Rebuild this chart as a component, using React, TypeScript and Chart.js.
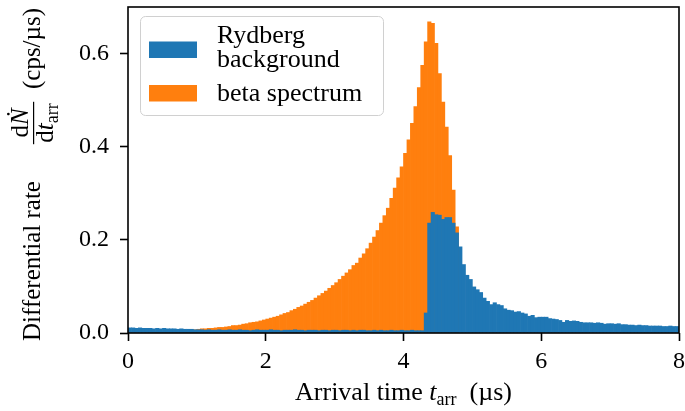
import React, { useEffect, useRef } from "react";
import { Chart, registerables } from "chart.js";

Chart.register(...registerables);

// ---------------- data ----------------
const BIN_WIDTH = 0.05; // µs, bins from 0 to 8 µs

const rydbergBackground = [
  // 0.00 - 0.95
  0.011, 0.011, 0.010, 0.011, 0.010, 0.010, 0.010, 0.009, 0.010, 0.009,
  0.010, 0.009, 0.009, 0.009, 0.008, 0.009, 0.008, 0.008, 0.008, 0.007,
  // 1.00 - 1.95
  0.007, 0.007, 0.006, 0.007, 0.006, 0.006, 0.007, 0.006, 0.006, 0.007,
  0.006, 0.006, 0.007, 0.006, 0.006, 0.005, 0.006, 0.007, 0.006, 0.006,
  // 2.00 - 2.95
  0.006, 0.007, 0.006, 0.006, 0.005, 0.006, 0.006, 0.006, 0.007, 0.006,
  0.006, 0.005, 0.006, 0.006, 0.006, 0.005, 0.006, 0.006, 0.005, 0.006,
  // 3.00 - 3.95
  0.006, 0.005, 0.006, 0.006, 0.005, 0.006, 0.005, 0.006, 0.006, 0.005,
  0.005, 0.006, 0.005, 0.006, 0.005, 0.005, 0.006, 0.005, 0.005, 0.006,
  // 4.00 - 4.25
  0.005, 0.005, 0.006, 0.005, 0.005, 0.005,
  // 4.30 - 4.75
  0.043, 0.236, 0.259, 0.254, 0.253, 0.244, 0.248, 0.248, 0.236, 0.215,
  // 4.80 - 5.25
  0.185, 0.147, 0.124, 0.115, 0.099, 0.093, 0.087, 0.075, 0.068, 0.061,
  // 5.30 - 5.75
  0.065, 0.061, 0.059, 0.052, 0.049, 0.048, 0.045, 0.046, 0.043, 0.041,
  // 5.80 - 6.25
  0.036, 0.038, 0.033, 0.034, 0.034, 0.034, 0.031, 0.030, 0.029, 0.027,
  // 6.30 - 6.75
  0.023, 0.027, 0.025, 0.026, 0.025, 0.023, 0.022, 0.022, 0.022, 0.021,
  // 6.80 - 7.25
  0.022, 0.021, 0.019, 0.020, 0.020, 0.019, 0.020, 0.018, 0.018, 0.017,
  // 7.30 - 7.75
  0.017, 0.016, 0.017, 0.016, 0.016, 0.015, 0.015, 0.015, 0.015, 0.014,
  // 7.80 - 7.95
  0.014, 0.015, 0.014, 0.014,
];

const betaSpectrum = [
  // 0.00 - 0.95
  0, 0, 0, 0, 0, 0, 0.001, 0.001, 0.002, 0.002,
  0.002, 0.003, 0.003, 0.004, 0.004, 0.005, 0.005, 0.006, 0.006, 0.007,
  // 1.00 - 1.95
  0.008, 0.009, 0.009, 0.010, 0.010, 0.011, 0.012, 0.012, 0.013, 0.014,
  0.016, 0.016, 0.017, 0.019, 0.020, 0.022, 0.023, 0.024, 0.026, 0.028,
  // 2.00 - 2.95
  0.030, 0.032, 0.034, 0.036, 0.039, 0.042, 0.044, 0.048, 0.051, 0.055,
  0.058, 0.062, 0.066, 0.070, 0.075, 0.080, 0.085, 0.090, 0.096, 0.102,
  // 3.00 - 3.95
  0.108, 0.115, 0.122, 0.129, 0.136, 0.145, 0.150, 0.161, 0.170, 0.181,
  0.193, 0.206, 0.220, 0.236, 0.252, 0.268, 0.289, 0.311, 0.333, 0.357,
  // 4.00 - 4.45
  0.386, 0.415, 0.450, 0.486, 0.527, 0.575, 0.625, 0.668, 0.665, 0.622,
  // 4.50 - 4.75
  0.557, 0.496, 0.442, 0.381, 0.307, 0.228,
  // 4.80 - 7.95
  0, 0, 0, 0, 0, 0, 0, 0, 0, 0, 0, 0, 0, 0, 0, 0,
  0, 0, 0, 0, 0, 0, 0, 0, 0, 0, 0, 0, 0, 0, 0, 0,
  0, 0, 0, 0, 0, 0, 0, 0, 0, 0, 0, 0, 0, 0, 0, 0,
  0, 0, 0, 0, 0, 0, 0, 0, 0, 0, 0, 0, 0, 0, 0, 0,
];

const seriesNames = ["Rydberg background", "beta spectrum"];
const legendLines = [["Rydberg", "background"], ["beta spectrum"]];
const seriesColors = ["#1f77b4", "#ff7f0e"];
const xTicks = [0, 2, 4, 6, 8];
const yTicks = [0, 0.2, 0.4, 0.6];
const X_MIN = 0;
const X_MAX = 8;
const Y_MIN = 0;
const Y_MAX = 0.7;

const binCenters = rydbergBackground.map((_, i) => +((i + 0.5) * BIN_WIDTH).toFixed(3));

// ---------------- styling ----------------
const FONT = "'Liberation Serif', 'Times New Roman', serif";
const TICK_SIZE = 24;
const LABEL_SIZE = 26;
const YLABEL_SIZE = 25;
const SUB_SIZE = 18;

type Run = { text: string; font: string; dy?: number };

function runsWidth(ctx: CanvasRenderingContext2D, runs: Run[]) {
  let w = 0;
  for (const r of runs) {
    ctx.font = r.font;
    w += ctx.measureText(r.text).width;
  }
  return w;
}

function drawRuns(ctx: CanvasRenderingContext2D, runs: Run[], x: number, y: number) {
  let cx = x;
  for (const r of runs) {
    ctx.font = r.font;
    ctx.fillText(r.text, cx, y + (r.dy || 0));
    cx += ctx.measureText(r.text).width;
  }
  return cx;
}

const decorPlugin = {
  id: "decor",
  afterDraw(chart: any) {
    const ctx: CanvasRenderingContext2D = chart.ctx;
    const { left, right, top, bottom } = chart.chartArea;
    ctx.save();

    // frame (spines)
    ctx.strokeStyle = "#000";
    ctx.lineWidth = 1.6;
    ctx.strokeRect(left, top, right - left, bottom - top);

    ctx.fillStyle = "#000";
    ctx.textAlign = "left";
    ctx.textBaseline = "alphabetic";
    const reg = `${LABEL_SIZE}px ${FONT}`;
    const ita = `italic ${LABEL_SIZE}px ${FONT}`;
    const sub = `${SUB_SIZE}px ${FONT}`;
    const yreg = `${YLABEL_SIZE}px ${FONT}`;
    const yita = `italic ${YLABEL_SIZE}px ${FONT}`;

    // legend
    const lx = 140.5, ly = 16.5, lw = 243, lh = 99;
    ctx.beginPath();
    (ctx as any).roundRect(lx, ly, lw, lh, 5);
    ctx.fillStyle = "rgba(255,255,255,0.8)";
    ctx.fill();
    ctx.strokeStyle = "#d0d0d0";
    ctx.lineWidth = 1;
    ctx.stroke();

    const swX = 149, swW = 48, swH = 16.5;
    const swY = [41.5, 85];
    const textBaselines = [[43, 67], [101]];
    chart.data.datasets.forEach((ds: any, i: number) => {
      ctx.fillStyle = ds.backgroundColor;
      ctx.fillRect(swX, swY[i], swW, swH);
      ctx.fillStyle = "#000";
      ctx.font = reg;
      legendLines[i].forEach((line, j) => {
        ctx.fillText(line, 217, textBaselines[i][j]);
      });
    });

    // x-axis label: Arrival time t_arr (µs)
    const xRuns: Run[] = [
      { text: "Arrival time ", font: reg },
      { text: "t", font: ita },
      { text: "arr", font: sub, dy: 5 },
      { text: "  (µs)", font: reg },
    ];
    const xw = runsWidth(ctx, xRuns);
    drawRuns(ctx, xRuns, (left + right) / 2 - xw / 2, 400);

    // y-axis label (rotated)
    ctx.save();
    ctx.rotate(-Math.PI / 2);
    // in rotated frame: tx = -pageY, ty = pageX
    const t1 = "Differential rate";
    ctx.font = yreg;
    const w1 = ctx.measureText(t1).width;
    const c1 = 261; // page y centre
    ctx.fillText(t1, -c1 - w1 / 2, 40);

    // fraction dN/dt_arr
    const fracC = 123;
    const numRuns: Run[] = [
      { text: "d", font: yreg },
      { text: "\u1E44", font: yita },
    ];
    const denRuns: Run[] = [
      { text: "d", font: yreg },
      { text: "t", font: yita },
      { text: "arr", font: sub, dy: 5 },
    ];
    const nw = runsWidth(ctx, numRuns);
    const dw = runsWidth(ctx, denRuns);
    const bw = Math.max(nw, dw) + 3;
    drawRuns(ctx, numRuns, -fracC - nw / 2, 28);
    drawRuns(ctx, denRuns, -fracC - dw / 2, 53);
    ctx.fillRect(-fracC - bw / 2, 33, bw, 1.2);

    const t3 = "(cps/µs)";
    ctx.font = yreg;
    const w3 = ctx.measureText(t3).width;
    const c3 = 48.5;
    ctx.fillText(t3, -c3 - w3 / 2, 40);
    ctx.restore();

    ctx.restore();
  },
};

export default function App() {
  const canvasRef = useRef<HTMLCanvasElement | null>(null);

  useEffect(() => {
    if (!canvasRef.current) return;
    const gridOpts = {
      display: true,
      offset: false,
      drawOnChartArea: false,
      drawTicks: true,
      tickLength: 8,
      tickWidth: 1.6,
      tickColor: "#000",
    };
    const chart = new Chart(canvasRef.current, {
      type: "bar",
      data: {
        datasets: [
          {
            label: seriesNames[0],
            data: binCenters.map((x, i) => ({ x, y: rydbergBackground[i] })),
            backgroundColor: seriesColors[0],
            borderWidth: 0,
            grouped: false,
            barPercentage: 1,
            categoryPercentage: 1,
          } as any,
          {
            label: seriesNames[1],
            data: binCenters.map((x, i) => ({ x, y: betaSpectrum[i] })),
            backgroundColor: seriesColors[1],
            borderWidth: 0,
            grouped: false,
            barPercentage: 1,
            categoryPercentage: 1,
          } as any,
        ],
      },
      options: {
        responsive: false,
        animation: false,
        devicePixelRatio: 1,
        layout: { padding: { left: 0, right: 6, top: 7, bottom: 0 } },
        plugins: {
          legend: { display: false },
          tooltip: { enabled: false },
          title: { display: false },
        },
        scales: {
          x: {
            type: "linear",
            min: X_MIN,
            max: X_MAX,
            offset: false,
            afterBuildTicks: (s: any) => {
              s.ticks = xTicks.map((v) => ({ value: v }));
            },
            afterFit: (s: any) => {
              s.height = 78;
              s.paddingLeft = 0;
              s.paddingRight = 0;
            },
            ticks: {
              font: { family: FONT, size: TICK_SIZE },
              color: "#000",
              padding: 6,
              maxRotation: 0,
              autoSkip: false,
              callback: (v: any) => String(v),
            },
            grid: gridOpts,
            border: { display: false },
          },
          y: {
            type: "linear",
            min: Y_MIN,
            max: Y_MAX,
            afterBuildTicks: (s: any) => {
              s.ticks = yTicks.map((v) => ({ value: v }));
            },
            afterFit: (s: any) => {
              s.width = 128;
              s.paddingTop = 0;
              s.paddingBottom = 0;
            },
            ticks: {
              font: { family: FONT, size: TICK_SIZE },
              color: "#000",
              padding: 11,
              callback: (v: any) => Number(v).toFixed(1),
            },
            grid: gridOpts,
            border: { display: false },
          },
        },
      } as any,
      plugins: [decorPlugin],
    });
    return () => chart.destroy();
  }, []);

  return (
    <div style={{ position: "absolute", left: 0, top: 0, width: 685, height: 411, background: "#fff" }}>
      <canvas ref={canvasRef} width={685} height={411} style={{ width: 685, height: 411 }} />
    </div>
  );
}
